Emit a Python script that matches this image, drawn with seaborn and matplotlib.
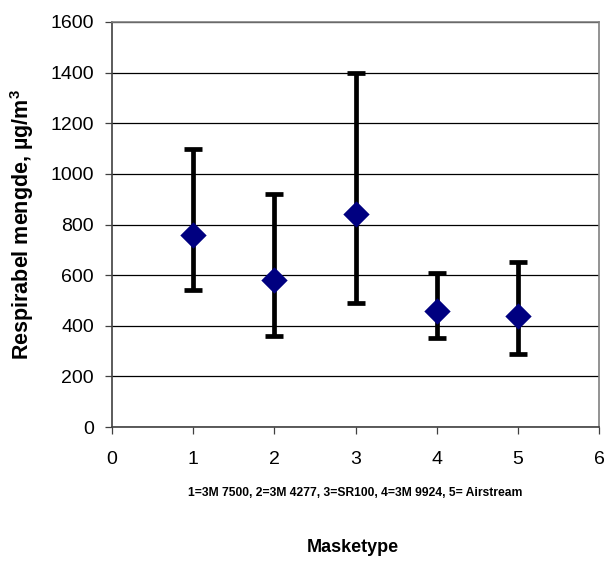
import matplotlib
matplotlib.use("Agg")
import matplotlib.pyplot as plt
import seaborn as sns
import pandas as pd

# Data
masketype = [1, 2, 3, 4, 5]
middel = [760, 580, 840, 460, 440]
maks = [1100, 920, 1400, 610, 650]
minimum = [540, 360, 490, 350, 290]
x_ticks = [0, 1, 2, 3, 4, 5, 6]
y_ticks = [0, 200, 400, 600, 800, 1000, 1200, 1400, 1600]

df = pd.DataFrame({"Masketype": masketype, "Mengde": middel,
                   "Maks": maks, "Min": minimum})

sns.set_theme(style="white")
plt.rcParams["font.family"] = ["Liberation Sans", "DejaVu Sans"]
plt.rcParams["mathtext.fontset"] = "custom"
plt.rcParams["mathtext.rm"] = "Liberation Sans"
plt.rcParams["mathtext.bf"] = "Liberation Sans:bold"
plt.rcParams["text.color"] = "black"
plt.rcParams["axes.labelcolor"] = "black"
plt.rcParams["xtick.color"] = "black"
plt.rcParams["ytick.color"] = "black"

fig = plt.figure(figsize=(6.07, 5.61), dpi=100)
ax = fig.add_axes([112/607, 1-427/561, (599-112)/607, (427-22)/561])

yerr = [df["Mengde"] - df["Min"], df["Maks"] - df["Mengde"]]
ax.errorbar(df["Masketype"], df["Mengde"], yerr=yerr, fmt="none",
            ecolor="black", elinewidth=3.4, capsize=6.5, capthick=3.4, zorder=3)
sns.scatterplot(data=df, x="Masketype", y="Mengde", marker="D", s=180,
                color="#000080", edgecolor="#000080", linewidth=0, ax=ax, zorder=4)

ax.set_xlim(0, 6)
ax.set_ylim(0, 1600)
ax.set_xticks(x_ticks)
ax.set_yticks(y_ticks)
ax.yaxis.grid(True, color="black", linewidth=0.9)
ax.set_axisbelow(True)
ax.tick_params(axis="both", which="major", labelsize=14, length=5, width=0.9,
               color="#404040", labelcolor="black", direction="out",
               bottom=True, left=True)
ax.tick_params(axis="x", pad=12)
ax.tick_params(axis="y", pad=8)
for s in ["left", "bottom"]:
    ax.spines[s].set_color("#404040")
    ax.spines[s].set_linewidth(1.2)
for s in ["top", "right"]:
    ax.spines[s].set_color("#808080")
    ax.spines[s].set_linewidth(1.2)

ax.set_xlabel("")
ax.set_ylabel(r"Respirabel mengde, µg/m$^\mathbf{3}$", fontsize=15.5,
              fontweight="bold", labelpad=10, color="black")

fig.text((112+599)/2/607, 1-493/561,
         "1=3M 7500, 2=3M 4277, 3=SR100, 4=3M 9924, 5= Airstream",
         ha="center", va="center", fontsize=8.7, fontweight="bold", color="black")
fig.text((112+599)/2/607 - 0.005, 1-548/561, "Masketype",
         ha="center", va="center", fontsize=13, fontweight="bold", color="black")

fig.savefig("out.png", dpi=100)
